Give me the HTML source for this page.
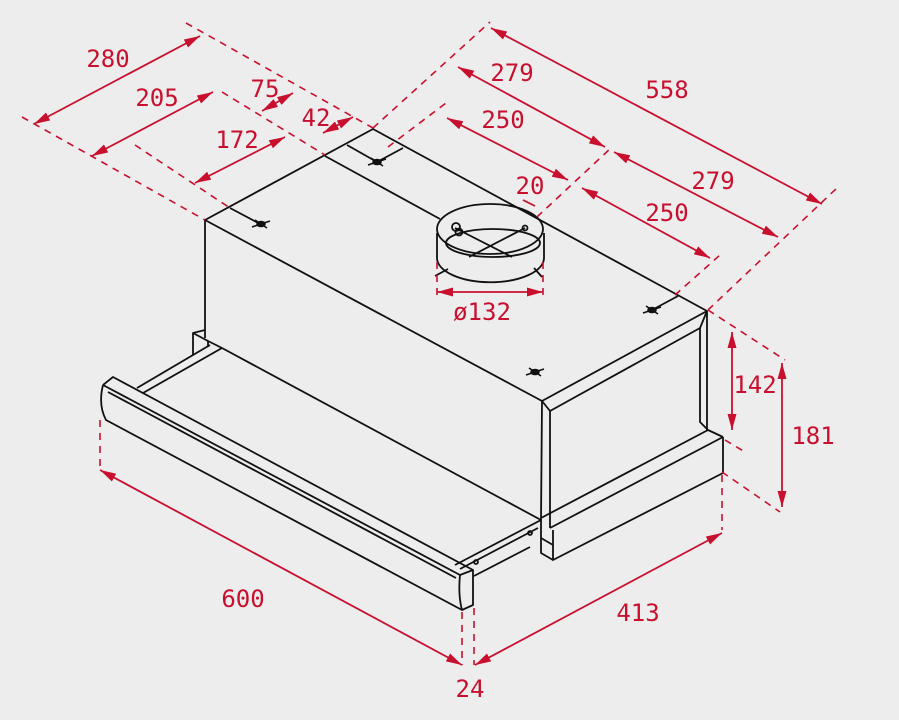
<!DOCTYPE html>
<html><head><meta charset="utf-8"><style>
html,body{margin:0;padding:0;background:#ededed;}
svg{display:block}
.k{stroke:#111;stroke-width:1.8;fill:none;stroke-linejoin:round}
.r{stroke:#c8102e;stroke-width:1.8;fill:none}
.d{stroke:#c8102e;stroke-width:1.6;fill:none;stroke-dasharray:7 6}
text{font-family:"DejaVu Sans Mono","Liberation Mono",monospace;font-size:24px;fill:#c8102e;text-anchor:middle}
</style></head><body>
<svg width="899" height="720" viewBox="0 0 899 720" xmlns="http://www.w3.org/2000/svg">
<defs>
<marker id="a" viewBox="0 0 16 9" refX="16" refY="4.5" markerWidth="16" markerHeight="9" markerUnits="userSpaceOnUse" orient="auto-start-reverse">
<path d="M0,0 L16,4.5 L0,9 z" fill="#c8102e"/></marker>
</defs>
<rect width="899" height="720" fill="#ededed"/>

<g class="k">
<path d="M205,220 L373,129 L707,311 L542,401 Z"/>
<path d="M325,156 L440,219"/>
<path d="M230,208 L262,225"/>
<path d="M347,145 L377,162 L403,148"/>
<path d="M652,310 L678,296"/>
<path d="M205,220 L205,338"/>
<path d="M542,401 L550,411 L700,328 L707,311"/>
<path d="M542,401 L541,520"/>
<path d="M550,411 L550,528"/>
<path d="M707,311 L707,430"/>
<path d="M700,328 L700,422 L708,430 L723,437"/>
<path d="M723,437 L550,528"/>
<path d="M708,430 L541,518"/>
<path d="M723,437 L723,473 L553,560 L553,530"/>
<path d="M541,520 L541,553 L553,560"/>
<path d="M541,538 L553,545"/>
<path d="M193,355 L193,333 L205,330"/>
<path d="M193,333 L208,341 L208,347"/>
<path d="M222,348 L541,520"/>
<path d="M137,388 L210,345"/>
<path d="M143,393 L222,348"/>
<path d="M208,341 L222,348"/>
<path d="M541,520 L455,565"/>
<path d="M538,528 L460,569"/>
<path d="M530,547 L474,576"/>
<circle cx="530" cy="533" r="2"/>
<circle cx="476" cy="562" r="2"/>
<path d="M103,385 L113,377 L473,570 L460,575 L103,385"/>
<path d="M108,392 L456,578"/>
<path d="M103,385 Q98,405 106,420 L462,610 L473,605 L473,570"/>
<path d="M460,575 Q458,595 462,610"/>
<path d="M437,233 L437,258 A53,24 0 0 0 544,258 L544,233" fill="none"/>
<ellipse cx="490" cy="229" rx="53" ry="25"/>
<ellipse cx="493" cy="243" rx="47" ry="14"/>
<path d="M469,257 L525,228 M455,228 L512,257"/>
<circle cx="525" cy="228" r="2.5"/>
<circle cx="456" cy="227" r="4"/>
<circle cx="459" cy="232" r="3.5"/>
<path d="M435,276 L448,269 M534,268 L542,277"/>
</g>
<g stroke="#111" stroke-width="1.6" fill="#111">
<g transform="translate(261,224)"><path d="M-9,3 L9,-3 M-6,-4 L6,4"/><ellipse rx="4" ry="2.5"/></g>
<g transform="translate(377,162)"><path d="M-9,3 L9,-3 M-6,-4 L6,4"/><ellipse rx="4" ry="2.5"/></g>
<g transform="translate(652,310)"><path d="M-9,3 L9,-3 M-6,-4 L6,4"/><ellipse rx="4" ry="2.5"/></g>
<g transform="translate(535,372)"><path d="M-9,3 L9,-3 M-6,-4 L6,4"/><ellipse rx="4" ry="2.5"/></g>
</g>

<g class="d">
<path d="M22,117 L205,220"/>
<path d="M186,23 L373,128"/>
<path d="M222,92 L325,155"/>
<path d="M135,145 L230,208"/>
<path d="M373,128 L490,22"/>
<path d="M708,310 L838,187"/>
<path d="M388,147 L446,103"/>
<path d="M537,217 L612,147"/>
<path d="M675,295 L720,255"/>
<path d="M437,262 L437,297 M543,262 L543,297"/>
<path d="M708,310 L785,360"/>
<path d="M725,440 L745,452"/>
<path d="M722,472 L780,512"/>
<path d="M722,475 L722,530"/>
<path d="M100,420 L100,468"/>
<path d="M462,612 L462,665 M474,608 L474,665"/>
</g>
<g class="r" marker-start="url(#a)" marker-end="url(#a)">
<path d="M34,124 L200,36"/>
<path d="M92,156 L213,92"/>
<path d="M195,183 L285,137"/>
<path d="M262,111 L293,93"/>
<path d="M323,133 L353,117"/>
<path d="M491,28 L822,204"/>
<path d="M458,67 L605,147"/>
<path d="M614,152 L778,237"/>
<path d="M447,118 L568,180"/>
<path d="M582,188 L710,258"/>
<path d="M437,292 L543,292"/>
<path d="M732,332 L732,430"/>
<path d="M782,363 L782,507"/>
<path d="M722,533 L475,665"/>
<path d="M100,470 L462,665"/>
</g>
<path class="r" d="M523,200 L535,206"/>

<text x="108" y="67">280</text>
<text x="157" y="106">205</text>
<text x="237" y="148">172</text>
<text x="265" y="97">75</text>
<text x="316" y="126">42</text>
<text x="667" y="98">558</text>
<text x="512" y="81">279</text>
<text x="713" y="189">279</text>
<text x="503" y="128">250</text>
<text x="667" y="221">250</text>
<text x="530" y="194">20</text>
<text x="482" y="320">ø132</text>
<text x="755" y="393">142</text>
<text x="813" y="444">181</text>
<text x="638" y="621">413</text>
<text x="243" y="607">600</text>
<text x="470" y="697">24</text>
</svg>
</body></html>
